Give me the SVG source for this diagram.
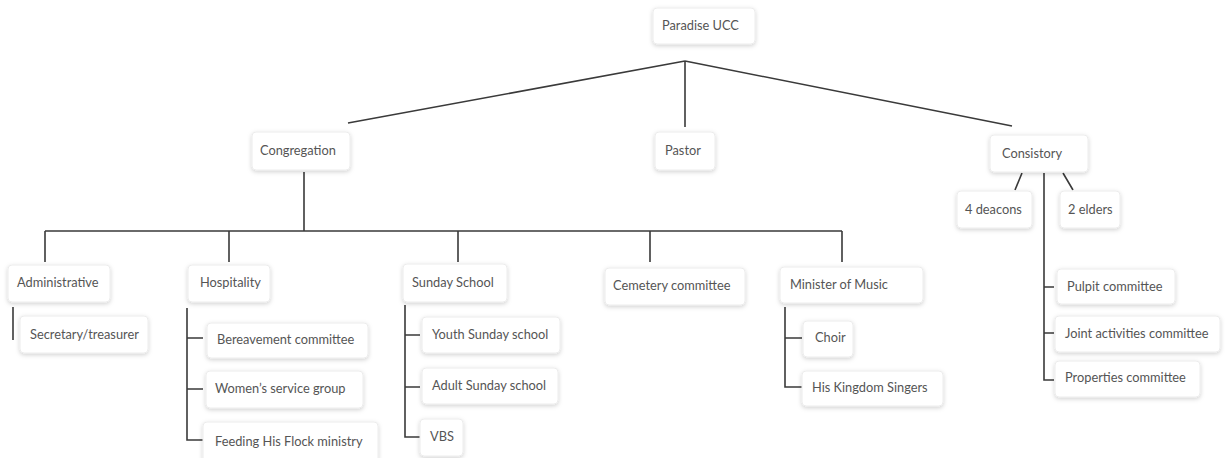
<svg xmlns="http://www.w3.org/2000/svg" width="1225" height="458" viewBox="0 0 1225 458">
<style>
.box{fill:#fff;stroke:#ececec;stroke-width:1;filter:url(#sh)}
.t{font-family:Lato,"Noto Sans",sans-serif;font-size:12.8px;fill:#555}
.c{fill:none;stroke:#3a3a3a;stroke-width:1.6}
</style>
<defs>
<filter id="sh" x="-20%" y="-30%" width="140%" height="170%">
<feDropShadow dx="0" dy="1.5" stdDeviation="2" flood-color="#000" flood-opacity="0.18"/>
</filter>
</defs>
<rect width="1225" height="458" fill="#fff"/>
<g id="connectors">
<path class="c" d="M685 61 L348 123 M685 61 L685 127 M685 61 L1012 126"/>
<path class="c" d="M304 172 V231 M45 231 H842 M45 231 V262 M229 231 V262 M458 231 V262 M650 231 V262 M842 231 V262"/>
<path class="c" d="M13 307 V340"/>
<path class="c" d="M187 308 V440 H203 M187 338 H203 M187 389 H203"/>
<path class="c" d="M405 305 V437 H420 M405 335 H420 M405 387 H420"/>
<path class="c" d="M785 307 V387 H802 M785 338 H802"/>
<path class="c" d="M1022 173 L1015 190 M1063 173 L1073 190 M1044 173 V380 H1054 M1044 287 H1054 M1044 333 H1054"/>
</g>
<g id="paradise"><rect class="box" x="653" y="8" width="102" height="36" rx="4"/><text class="t" x="662" y="30">Paradise UCC</text></g>
<g id="congregation"><rect class="box" x="252" y="132" width="98" height="38" rx="4"/><text class="t" x="260" y="155">Congregation</text></g>
<g id="pastor"><rect class="box" x="655" y="132" width="60" height="38" rx="4"/><text class="t" x="665" y="155">Pastor</text></g>
<g id="consistory"><rect class="box" x="990" y="135" width="98" height="37" rx="4"/><text class="t" x="1002" y="158">Consistory</text></g>
<g id="deacons"><rect class="box" x="957" y="191" width="75" height="37" rx="4"/><text class="t" x="965" y="214">4 deacons</text></g>
<g id="elders"><rect class="box" x="1060" y="191" width="60" height="37" rx="4"/><text class="t" x="1068" y="214">2 elders</text></g>
<g id="administrative"><rect class="box" x="8" y="265" width="102" height="37" rx="4"/><text class="t" x="17" y="287">Administrative</text></g>
<g id="secretary"><rect class="box" x="20" y="316" width="128" height="37" rx="4"/><text class="t" x="30" y="339">Secretary/treasurer</text></g>
<g id="hospitality"><rect class="box" x="188" y="265" width="82" height="37" rx="4"/><text class="t" x="200" y="287">Hospitality</text></g>
<g id="bereavement"><rect class="box" x="207" y="323" width="161" height="35" rx="4"/><text class="t" x="217" y="344">Bereavement committee</text></g>
<g id="womens"><rect class="box" x="206" y="371" width="157" height="37" rx="4"/><text class="t" x="215" y="393">Women’s service group</text></g>
<g id="feeding"><rect class="box" x="203" y="422" width="175" height="40" rx="4"/><text class="t" x="215" y="446">Feeding His Flock ministry</text></g>
<g id="sundayschool"><rect class="box" x="403" y="264" width="104" height="38" rx="4"/><text class="t" x="412" y="287">Sunday School</text></g>
<g id="youth"><rect class="box" x="422" y="317" width="138" height="36" rx="4"/><text class="t" x="432" y="339">Youth Sunday school</text></g>
<g id="adult"><rect class="box" x="422" y="368" width="136" height="36" rx="4"/><text class="t" x="432" y="390">Adult Sunday school</text></g>
<g id="vbs"><rect class="box" x="420" y="419" width="43" height="37" rx="4"/><text class="t" x="430" y="441">VBS</text></g>
<g id="cemetery"><rect class="box" x="605" y="268" width="140" height="37" rx="4"/><text class="t" x="613" y="290">Cemetery committee</text></g>
<g id="minister"><rect class="box" x="780" y="267" width="143" height="36" rx="4"/><text class="t" x="790" y="289">Minister of Music</text></g>
<g id="choir"><rect class="box" x="803" y="321" width="50" height="36" rx="4"/><text class="t" x="815" y="342">Choir</text></g>
<g id="kingdom"><rect class="box" x="802" y="371" width="141" height="35" rx="4"/><text class="t" x="812" y="392">His Kingdom Singers</text></g>
<g id="pulpit"><rect class="box" x="1057" y="269" width="118" height="35" rx="4"/><text class="t" x="1067" y="291">Pulpit committee</text></g>
<g id="joint"><rect class="box" x="1055" y="316" width="165" height="36" rx="4"/><text class="t" x="1065" y="338">Joint activities committee</text></g>
<g id="properties"><rect class="box" x="1055" y="361" width="145" height="36" rx="4"/><text class="t" x="1065" y="382">Properties committee</text></g>
</svg>
